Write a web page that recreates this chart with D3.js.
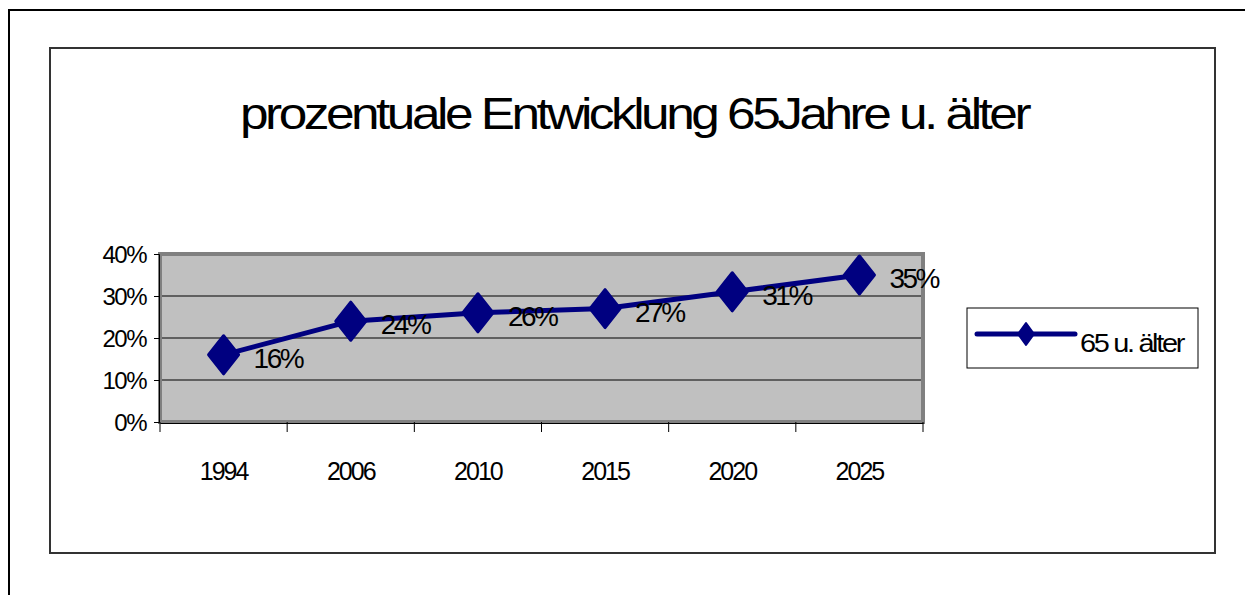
<!DOCTYPE html>
<meta charset="utf-8">
<style>
body {margin: 0; background: #fff;}
text {font-family: "Liberation Sans", Arial, sans-serif; fill: #000;}
</style>
<body>
<script src="https://d3js.org/d3.v7.min.js"></script>
<div id="chart"></div>
</body>
<script>
// data
var years = ["1994", "2006", "2010", "2015", "2020", "2025"];
var shares = [0.16, 0.24, 0.26, 0.27, 0.31, 0.35];
var yTicks = [0, 0.1, 0.2, 0.3, 0.4];
var seriesName = "65 u. älter";
var title = "prozentuale Entwicklung 65Jahre u. älter";

var width = 1245, height = 595;
var svg = d3.select("#chart").append("svg")
    .attr("width", width)
    .attr("height", height);

// outer frame + chart frame
svg.append("rect").attr("x", 9).attr("y", 10).attr("width", 1260).attr("height", 620)
    .attr("fill", "none").attr("stroke", "#000").attr("stroke-width", 2);
svg.append("rect").attr("x", 50).attr("y", 48).attr("width", 1165).attr("height", 505)
    .attr("fill", "#fff").attr("stroke", "#333").attr("stroke-width", 2);

// title
svg.append("text")
    .attr("x", 634).attr("y", 129)
    .attr("text-anchor", "middle")
    .attr("font-size", 44)
    .attr("letter-spacing", -3)
    .attr("textLength", 788)
    .attr("lengthAdjust", "spacingAndGlyphs")
    .text(title);

// plot area
var plot = {left: 160, right: 923, top: 254, bottom: 422};
var x = d3.scaleBand().domain(years).range([plot.left, plot.right]);
var y = d3.scaleLinear().domain([0, 0.4]).range([plot.bottom, plot.top]);

svg.append("rect")
    .attr("x", plot.left).attr("y", plot.top)
    .attr("width", plot.right - plot.left).attr("height", plot.bottom - plot.top)
    .attr("fill", "#c0c0c0").attr("stroke", "#808080").attr("stroke-width", 4);

// gridlines
svg.append("g").selectAll("line")
    .data(yTicks.filter(function(d) { return d > 0 && d < 0.4; }))
    .enter().append("line")
    .attr("x1", plot.left + 2).attr("x2", plot.right - 2)
    .attr("y1", function(d) { return y(d); })
    .attr("y2", function(d) { return y(d); })
    .attr("stroke", "#000").attr("stroke-width", 1);

// y axis
var yAxis = svg.append("g")
    .attr("transform", "translate(" + (plot.left - 1) + ",0)")
    .call(d3.axisLeft(y).tickValues(yTicks).tickSize(5).tickPadding(8)
        .tickFormat(d3.format(".0%")));
yAxis.select(".domain").attr("stroke", "#000");
yAxis.selectAll(".tick line").attr("stroke", "#000");
yAxis.selectAll("text")
    .attr("font-size", 24)
    .attr("font-family", "Liberation Sans, Arial, sans-serif")
    .attr("letter-spacing", -1.5)
    .attr("dy", "0.35em");

// x axis
var xAxis = svg.append("g")
    .attr("transform", "translate(0," + (plot.bottom + 1) + ")")
    .call(d3.axisBottom(x).tickSize(0).tickPadding(39));
xAxis.select(".domain").attr("stroke", "#000");
xAxis.selectAll("text")
    .attr("font-size", 25)
    .attr("font-family", "Liberation Sans, Arial, sans-serif")
    .attr("letter-spacing", -2);
var bounds = years.map(function(d) { return x(d); }).concat([plot.right]);
svg.append("g").selectAll("line")
    .data(bounds).enter().append("line")
    .attr("x1", function(d) { return d; }).attr("x2", function(d) { return d; })
    .attr("y1", plot.bottom).attr("y2", plot.bottom + 10)
    .attr("stroke", "#000").attr("stroke-width", 1);

// series line
var cx = function(i) { return x(years[i]) + x.bandwidth() / 2; };
var line = d3.line()
    .x(function(d, i) { return cx(i); })
    .y(function(d) { return y(d); });
svg.append("path")
    .datum(shares)
    .attr("d", line)
    .attr("fill", "none")
    .attr("stroke", "#000080")
    .attr("stroke-width", 5)
    .attr("stroke-linejoin", "round");

var diamond = "M0,-19L15,0L0,19L-15,0Z";
svg.append("g").selectAll("path")
    .data(shares).enter().append("path")
    .attr("d", diamond)
    .attr("transform", function(d, i) { return "translate(" + cx(i) + "," + y(d) + ")"; })
    .attr("fill", "#000080")
    .attr("stroke", "#000080")
    .attr("stroke-width", 3)
    .attr("stroke-linejoin", "round");

// data labels
svg.append("g").selectAll("text")
    .data(shares).enter().append("text")
    .attr("x", function(d, i) { return cx(i) + 30; })
    .attr("y", function(d) { return y(d) + 13; })
    .attr("font-size", 28)
    .attr("letter-spacing", -2.5)
    .text(function(d) { return Math.round(d * 100) + "%"; });

// legend
var lg = svg.append("g");
lg.append("rect").attr("x", 967).attr("y", 308).attr("width", 231).attr("height", 60)
    .attr("fill", "#fff").attr("stroke", "#000").attr("stroke-width", 1);
lg.append("line").attr("x1", 977).attr("x2", 1075).attr("y1", 334).attr("y2", 334)
    .attr("stroke", "#000080").attr("stroke-width", 5).attr("stroke-linecap", "round");
lg.append("path").attr("d", "M0,-11L8,0L0,11L-8,0Z")
    .attr("transform", "translate(1026,334)")
    .attr("fill", "#000080").attr("stroke", "#000080").attr("stroke-width", 2)
    .attr("stroke-linejoin", "round");
lg.append("text").attr("x", 1080).attr("y", 352)
    .attr("font-size", 25)
    .attr("letter-spacing", -2)
    .attr("textLength", 103)
    .attr("lengthAdjust", "spacingAndGlyphs")
    .text(seriesName);
</script>
